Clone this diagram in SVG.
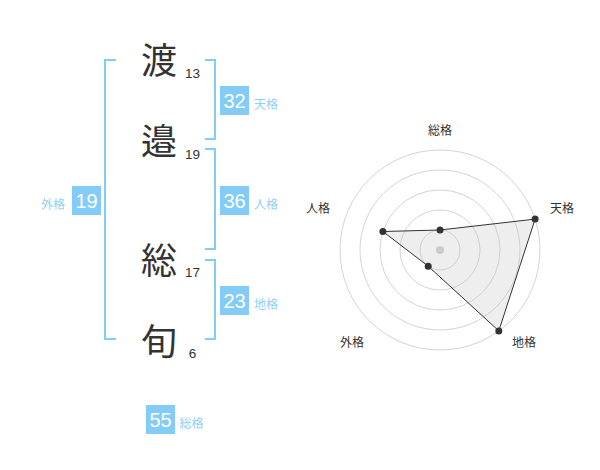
<svg xmlns="http://www.w3.org/2000/svg" width="600" height="470" viewBox="0 0 600 470">
<style>
.ch{font-family:"Noto Sans CJK JP","Noto Sans CJK SC",sans-serif;font-size:36px;fill:#333;text-anchor:middle}
.st{font-family:"Liberation Sans",Arial,sans-serif;font-size:13.5px;fill:#333;text-anchor:middle}
.br{fill:none;stroke:#84ccf8;stroke-width:2}
.bx{fill:#84ccf8}
.bn{font-family:"Liberation Sans",Arial,sans-serif;font-size:20px;fill:#fff;text-anchor:middle}
.lb{font-family:"Noto Sans CJK JP","Noto Sans CJK SC",sans-serif;font-size:12px;fill:#8fd0f7}
.ring{fill:none;stroke:#d4d4d4;stroke-width:1}
.rl{font-family:"Noto Sans CJK JP","Noto Sans CJK SC",sans-serif;font-size:12px;fill:#333;text-anchor:middle}
.dot{fill:#333}
</style>
<rect width="600" height="470" fill="#fff"/>
<g id="name">
<g id="char1"><text class="ch" x="159" y="74">渡</text><text class="st" x="192.5" y="77.5">13</text></g>
<g id="char2"><text class="ch" x="159" y="155">邉</text><text class="st" x="192.5" y="158.5">19</text></g>
<g id="char3"><text class="ch" x="159" y="274">総</text><text class="st" x="192.5" y="277">17</text></g>
<g id="char4"><text class="ch" x="159" y="355">旬</text><text class="st" x="192.5" y="357.5">6</text></g>
</g>
<g id="connectors">
<path class="br" d="M205,60 H215 V139 H205"/>
<path class="br" d="M205,149 H215 V249 H205"/>
<path class="br" d="M205,260 H215 V339 H205"/>
<path class="br" d="M116,60 H105 V339 H116"/>
</g>
<g id="tenkaku"><rect class="bx" x="220" y="86" width="29" height="29"/><text class="bn" x="234.5" y="107.5">32</text><text class="lb" x="254" y="108.5">天格</text></g>
<g id="jinkaku"><rect class="bx" x="220" y="186" width="29" height="29"/><text class="bn" x="234.5" y="207.5">36</text><text class="lb" x="254" y="208.5">人格</text></g>
<g id="chikaku"><rect class="bx" x="220" y="286" width="29" height="29"/><text class="bn" x="234.5" y="307.5">23</text><text class="lb" x="254" y="308.5">地格</text></g>
<g id="gaikaku"><rect class="bx" x="72" y="186" width="29" height="29"/><text class="bn" x="86.5" y="207.5">19</text><text class="lb" x="65" y="208.5" text-anchor="end">外格</text></g>
<g id="soukaku"><rect class="bx" x="146" y="405" width="29" height="29"/><text class="bn" x="160.5" y="426.5">55</text><text class="lb" x="179.5" y="427.5">総格</text></g>
<g id="radar">
<circle class="ring" cx="440" cy="250" r="20"/>
<circle class="ring" cx="440" cy="250" r="40"/>
<circle class="ring" cx="440" cy="250" r="60"/>
<circle class="ring" cx="440" cy="250" r="80"/>
<circle class="ring" cx="440" cy="250" r="100"/>
<circle cx="440" cy="250" r="4" fill="#cfcfcf"/>
<polygon points="440,230 535.1,219.1 498.8,330.9 428.2,266.2 382.9,231.5" fill="#c8c8c8" fill-opacity="0.3" stroke="#333" stroke-width="1"/>
<circle class="dot" cx="440" cy="230" r="3.5"/>
<circle class="dot" cx="535.1" cy="219.1" r="3.5"/>
<circle class="dot" cx="498.8" cy="330.9" r="3.5"/>
<circle class="dot" cx="428.2" cy="266.2" r="3.5"/>
<circle class="dot" cx="382.9" cy="231.5" r="3.5"/>
<text class="rl" x="440" y="135">総格</text>
<text class="rl" x="562" y="213">天格</text>
<text class="rl" x="524" y="347">地格</text>
<text class="rl" x="352" y="347">外格</text>
<text class="rl" x="318" y="213">人格</text>
</g>
</svg>
